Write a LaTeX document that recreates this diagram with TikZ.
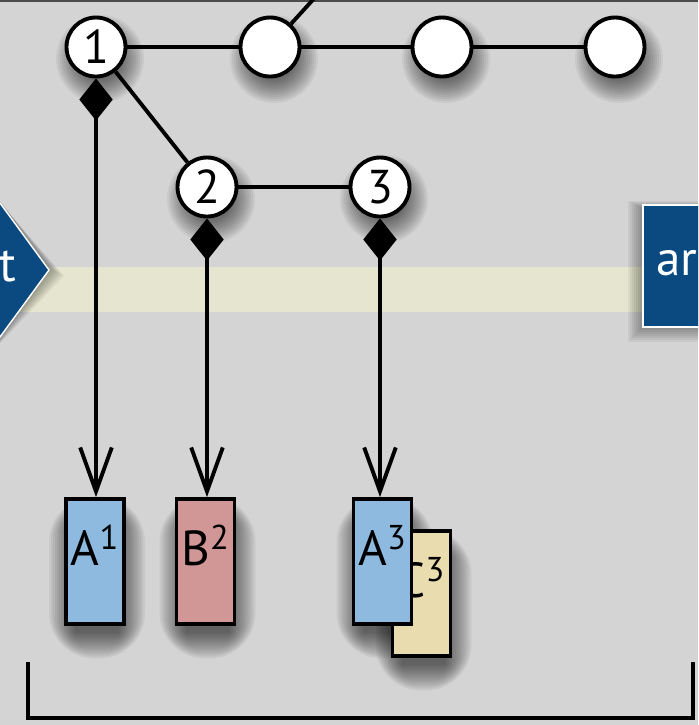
\documentclass[tikz,border=0pt]{standalone}
\usepackage{fontspec}
\setmainfont{PT Sans}
\usetikzlibrary{arrows.meta}

\definecolor{bg}{HTML}{D4D4D4}
\definecolor{band}{HTML}{E6E6D0}
\definecolor{navy}{HTML}{0B4A80}
\definecolor{boxblue}{HTML}{8FBADF}
\definecolor{boxpink}{HTML}{D19797}
\definecolor{boxsand}{HTML}{E9DDB0}

\tikzset{
  knot/.style={circle, draw, fill=white, line width=2.2pt, minimum size=1.18cm, inner sep=0pt,
    font=\fontsize{27}{27}\selectfont},
  docbox/.style={rectangle, draw, line width=2.2pt, minimum width=1.16cm, text height=1.32cm,
    text depth=1.18cm, inner sep=0pt, font=\fontsize{28}{28}\selectfont},
  tie/.style={line width=2.2pt},
  link/.style={line width=2.2pt,
    {Diamond[width=19pt,length=24pt,fill=black]}-{Straight Barb[width=18pt,length=25pt]}},
  tag/.style={text=white, font=\fontsize{28}{28}\selectfont, inner sep=0pt},
  halo/.style={fill=black, opacity=0.05},
}

\begin{document}
\begin{tikzpicture}[x=0.02cm, y=-0.02cm]
        % 背景
        \useasboundingbox (0,0) rectangle (698,725);
        \clip (0,0) rectangle (698,725);
        \fill[bg] (0,0) rectangle (698,725);
        \fill[band] (0,267) rectangle (650,312);
        \draw[line width=1.2pt, gray!60!black] (0,1) -- (698,1);

        % 阴影
        \foreach \px/\py in {96/47,270/47,442/47,615/47,207/187,380/187}
          \foreach \r in {16,18,...,44}
            \fill[halo] (\px+4,\py+12) circle (\r);
        \foreach \px/\py in {95/561.5,205.5/561.5,382.5/561.5,421.5/593.5}
          \foreach \i in {0,2,...,26}
            \fill[halo, rounded corners=\i pt] (\px-20-\i,\py-39-\i) rectangle ++({44+2*\i},{110+2*\i});
        \foreach \i in {0,2,...,12}
          \fill[halo] ({-60-\i},121) -- ({52+\i},{270+\i/2}) -- ({-60-\i},419) -- cycle;
        \foreach \i in {0,2,...,12}
          \fill[halo] ({640-\i},{207-\i/2}) rectangle (760,{330+\i});

        % 左右两个标签
        \draw[fill=navy, draw=white, line width=0.8pt] (-60,121) -- (49,270) -- (-60,419) -- cycle;
        \node[tag, anchor=base east] (tail) at (17,281) {t};
        \draw[fill=navy, draw=white, line width=0.8pt] (643,205) rectangle (760,327);
        \node[tag, anchor=base west] (head) at (656,275) {ar};

        % 结点
        \node[knot] (k1) at (96,47) {1};
        \node[knot] (k2) at (270,47) {};
        \node[knot] (k3) at (442,47) {};
        \node[knot] (k4) at (615,47) {};
        \node[knot] (k5) at (207,187) {2};
        \node[knot] (k6) at (380,187) {3};
        \coordinate (up) at (340,-30);

        \draw[tie] (k1) -- (k2);
        \draw[tie] (k2) -- (k3);
        \draw[tie] (k3) -- (k4);
        \draw[tie] (k2) -- (up);
        \draw[tie] (k1) -- (k5);
        \draw[tie] (k5) -- (k6);

        % 文档
        \node[docbox, fill=boxsand] (c3) at (421.5,593.5) {C\textsuperscript{3}};
        \node[docbox, fill=boxblue] (a1) at (95,561.5) {A\textsuperscript{1}};
        \node[docbox, fill=boxpink] (b2) at (205.5,561.5) {B\textsuperscript{2}};
        \node[docbox, fill=boxblue] (a3) at (382.5,561.5) {A\textsuperscript{3}};

        % 箭头
        \draw[link] (k1.south) -- (k1.south |- a1.north);
        \draw[link] (k5.south) -- (k5.south |- b2.north);
        \draw[link] (k6.south) -- (k6.south |- a3.north);

        % 括号
        \draw[line width=2.6pt] (28,662) -- (28,718) -- (693,718) -- (693,662);
    \end{tikzpicture}
\end{document}
